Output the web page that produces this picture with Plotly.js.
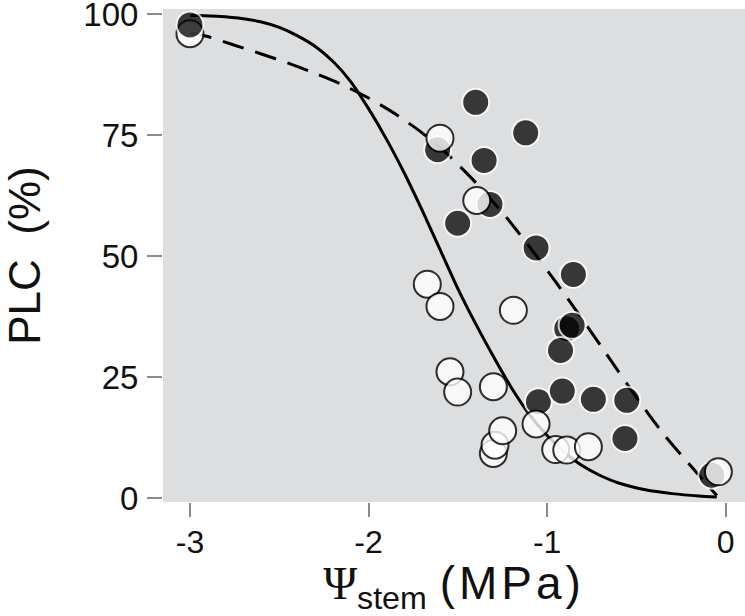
<!DOCTYPE html>
<html>
<head>
<meta charset="utf-8">
<script src="https://cdn.plot.ly/plotly-3.0.1.min.js"></script>
<style>
  html, body { margin: 0; padding: 0; background: #fff; }
  #chart { width: 745px; height: 616px; }
</style>
</head>
<body>
<div id="chart"></div>
<script>
// Puntos medidos, en orden de dibujo (el último queda encima)
const psiStem = [-3.00, -3.00,
  -1.613, -1.400, -1.120, -1.353, -1.320, -1.501, -1.062, -0.853, -0.890, -0.860,
  -0.925, -1.049, -0.915, -0.741, -0.554, -0.564, -0.078,
  -1.600, -1.394, -1.671, -1.600, -1.189, -1.544, -1.501, -1.301, -1.301, -1.292,
  -1.249, -1.062, -0.952, -0.890, -0.769, -0.041];
const plc = [96.0, 97.8,
  72.0, 81.8, 75.5, 69.8, 60.7, 56.8, 51.7, 46.2, 35.0, 35.7,
  30.5, 19.9, 22.1, 20.4, 20.2, 12.3, 4.7,
  74.4, 61.5, 44.2, 39.6, 38.8, 26.1, 21.9, 23.0, 9.2, 10.9,
  13.9, 15.3, 10.0, 9.9, 10.6, 5.4];
const grupo = ['b', 'n',
  'n', 'n', 'n', 'n', 'n', 'n', 'n', 'n', 'n', 'n',
  'n', 'n', 'n', 'n', 'n', 'n', 'n',
  'b', 'b', 'b', 'b', 'b', 'b', 'b', 'b', 'b', 'b',
  'b', 'b', 'b', 'b', 'b', 'b'];

// Curva ajustada (línea continua)
const curvaSolidaX = [-3.00, -2.85, -2.70, -2.60, -2.50, -2.40, -2.30, -2.20, -2.10, -2.00,
  -1.90, -1.80, -1.70, -1.60, -1.50, -1.40, -1.30, -1.20, -1.10, -1.00,
  -0.90, -0.80, -0.70, -0.60, -0.45, -0.30, -0.15, -0.05];
const curvaSolidaY = [99.8, 99.6, 99.1, 98.4, 97.3, 95.6, 93.4, 90.3, 86.1, 80.5,
  74.2, 67.2, 59.5, 51.4, 43.3, 36.0, 29.2, 22.8, 17.3, 12.9,
  9.4, 6.6, 4.6, 3.1, 1.7, 0.9, 0.4, 0.2];

// Curva ajustada (línea discontinua)
const curvaDiscX = [-3.00, -2.90, -2.75, -2.60, -2.45, -2.30, -2.15, -2.00, -1.85, -1.70,
  -1.55, -1.40, -1.25, -1.10, -0.95, -0.80, -0.65, -0.50, -0.35, -0.20, -0.05];
const curvaDiscY = [96.2, 95.4, 93.6, 91.8, 89.9, 87.8, 85.5, 82.7, 79.4, 75.5,
  70.8, 65.2, 59.0, 52.0, 44.6, 36.8, 28.8, 20.8, 13.3, 6.8, 0.5];

const ticksX = [-3, -2, -1, 0];
const ticksY = [0, 25, 50, 75, 100];

const FUENTE = 'Liberation Sans, Arial, sans-serif';

const traces = [
  {
    x: curvaSolidaX, y: curvaSolidaY, type: 'scatter', mode: 'lines',
    line: { color: '#000', width: 3, shape: 'spline', smoothing: 0.6 },
    hoverinfo: 'skip',
  },
  {
    x: curvaDiscX, y: curvaDiscY, type: 'scatter', mode: 'lines',
    line: { color: '#000', width: 3, dash: '22px,12px', shape: 'spline', smoothing: 0.6 },
    hoverinfo: 'skip',
  },
  {
    x: psiStem, y: plc, type: 'scatter', mode: 'markers',
    marker: {
      size: 27,
      color: grupo.map(g => g === 'n' ? '#000000' : '#ffffff'),
      opacity: grupo.map(g => g === 'n' ? 0.75 : 0.8),
      line: { color: grupo.map(g => g === 'n' ? '#ffffff' : '#000000'), width: 2 },
    },
    hovertemplate: '%{x:.2f} MPa<br>PLC %{y:.1f}%<extra></extra>',
  },
];

const layout = {
  width: 745,
  height: 616,
  paper_bgcolor: '#ffffff',
  plot_bgcolor: '#dddee0',
  margin: { l: 163, r: 0, t: 9, b: 114 },
  showlegend: false,
  font: { family: FUENTE, color: '#111' },
  xaxis: {
    range: [-3.151, 0.108],
    tickvals: ticksX,
    ticktext: ticksX.map(String),
    ticks: 'outside', ticklen: 14, tickwidth: 2, tickcolor: '#8c8c8c',
    ticklabelstandoff: -2,
    showgrid: false, zeroline: false, showline: false,
    tickfont: { family: FUENTE, size: 32, color: '#111' },
    title: {
      text: '\u00a0\u00a0<span style="font-family:Liberation Serif, Times New Roman, serif">Ψ</span><sub>stem</sub> <span style="letter-spacing:4px">(MPa)</span>',
      font: { family: FUENTE, size: 46, color: '#111' },
      standoff: 6,
    },
  },
  yaxis: {
    range: [-0.83, 101.1],
    tickvals: ticksY,
    ticktext: ticksY.map(String),
    ticks: 'outside', ticklen: 15, tickwidth: 2, tickcolor: '#8c8c8c',
    ticklabelstandoff: 2,
    ticklabeloverflow: 'allow',
    showgrid: false, zeroline: false, showline: false,
    tickfont: { family: FUENTE, size: 33, color: '#111' },
    title: {
      text: 'PLC\u00a0 (%)',
      font: { family: FUENTE, size: 44, color: '#111' },
      standoff: 44,
    },
  },
};

Plotly.newPlot('chart', traces, layout, { displayModeBar: false, staticPlot: true });
</script>
</body>
</html>
